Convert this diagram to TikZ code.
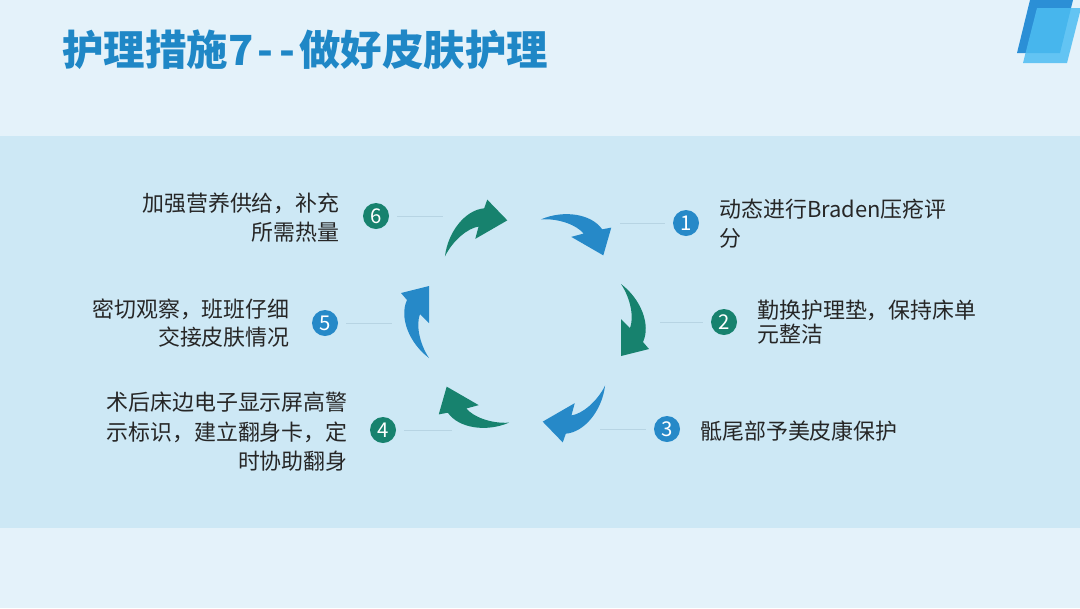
\documentclass[tikz,border=0pt]{standalone}
\usepackage{fontspec}
\setmainfont{Noto Sans CJK SC}
\definecolor{pagebg}{HTML}{E4F2FA}
\definecolor{bandbg}{HTML}{CDE8F5}
\definecolor{titleblue}{HTML}{1F87C6}
\definecolor{arrblue}{HTML}{2689C8}
\definecolor{arrteal}{HTML}{17826E}
\definecolor{leadgray}{HTML}{B7D4E3}
\definecolor{decodark}{HTML}{2B8FD6}
\definecolor{decolight}{HTML}{4DBDF2}
\definecolor{bodytext}{HTML}{262626}
\begin{document}
\begin{tikzpicture}[
    x=0.025cm, y=-0.025cm,
    num/.style={circle, fill=#1, text=white, minimum size=0.65cm, inner sep=0pt,
      font=\fontsize{14.5}{14.5}\selectfont},
    item/.style={text=bodytext, inner sep=0pt, font=\fontsize{15.6}{20.6}\selectfont},
    lead/.style={draw=leadgray, line width=0.6pt, shorten <=5.5pt}
  ]
    \useasboundingbox (0,0) rectangle (1080,608);
    \fill[pagebg] (0,0) rectangle (1080,608);
    \fill[bandbg] (0,136) rectangle (1080,528);

    % corner mark
    \fill[decodark] (1030,0) -- (1073,0) -- (1060,53) -- (1017,53) -- cycle;
    \fill[decolight, opacity=0.85] (1037,8) -- (1081,8) -- (1067,63) -- (1023,63) -- cycle;

    \node[anchor=west, inner sep=0pt, text=titleblue, font=\fontsize{29.5}{29.5}\selectfont\bfseries]
      (title) at (62,50) {护理措施7\kern3pt-{}\kern4pt-{}\kern3pt做好皮肤护理};

    % ring of arrows
    \foreach \ang/\col in {0/arrteal,60/arrblue,120/arrteal,180/arrblue,240/arrteal,300/arrblue}{
      \begin{scope}[shift={(525,321)}, rotate=\ang]
        \fill[\col] (96,-37) .. controls (116,-22) and (126,4) .. (118,21) -- (124,28)
          -- (96,35) -- (96,-2) -- (105,7) .. controls (109,-3) and (106,-22) .. cycle;
      \end{scope}
    }

    % numbered steps
    \node[num=arrblue] (n1) at (686,223) {1};
    \node[num=arrteal] (n2) at (724,322) {2};
    \node[num=arrblue] (n3) at (667,429) {3};
    \node[num=arrteal] (n4) at (383,430) {4};
    \node[num=arrblue] (n5) at (325,323) {5};
    \node[num=arrteal] (n6) at (376,216) {6};

    \coordinate (e1) at (620,223);
    \coordinate (e2) at (660,322);
    \coordinate (e3) at (600,429);
    \coordinate (e4) at (452,430);
    \coordinate (e5) at (392,323);
    \coordinate (e6) at (443,216);
    \foreach \i in {1,...,6}
      \draw[lead] (n\i) -- (e\i);

    \node[item, anchor=west, align=left] (t1) at (719,223.5)
      {动态进行Braden压疮评\\分};
    \node[item, anchor=west, align=left, font=\fontsize{15.6}{17.4}\selectfont] (t2) at (757,322)
      {勤换护理垫，保持床单\\元整洁};
    \node[item, anchor=west] (t3) at (700,431) {骶尾部予美皮康保护};
    \node[item, anchor=east, align=right, font=\fontsize{15.6}{20.9}\selectfont] (t4) at (348,432)
      {术后床边电子显示屏高警\\示标识，建立翻身卡，定\\时协助翻身};
    \node[item, anchor=east, align=right, font=\fontsize{15.6}{19.9}\selectfont] (t5) at (290,323)
      {密切观察，班班仔细\\交接皮肤情况};
    \node[item, anchor=east, align=right] (t6) at (340,217.5)
      {加强营养供给，补充\\所需热量};
\end{tikzpicture}
\end{document}
